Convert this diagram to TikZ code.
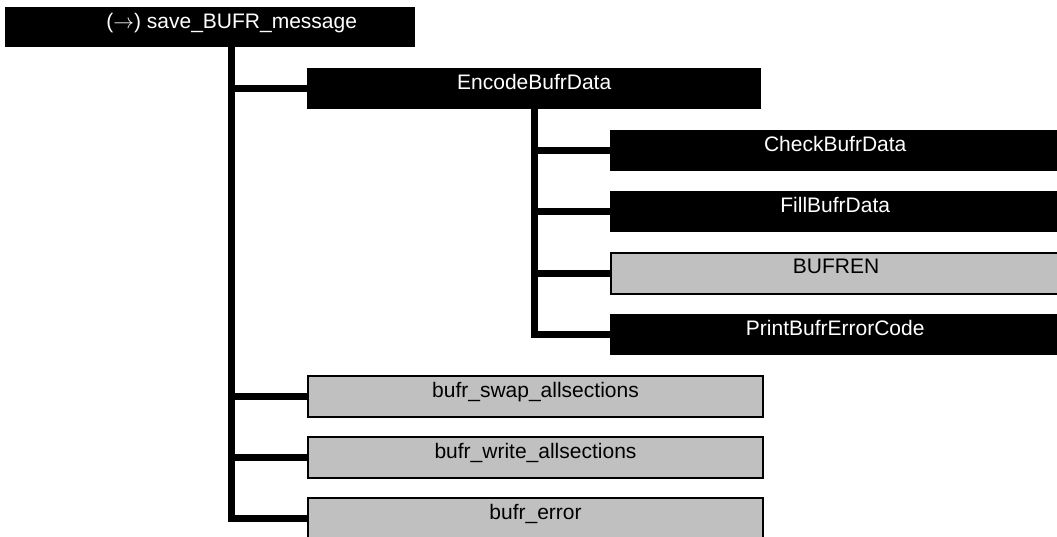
\documentclass[tikz,border=0pt]{standalone}
\usepackage{fontspec}
\setmainfont{Liberation Sans}
\usetikzlibrary{calc}
\definecolor{boxgray}{RGB}{192,192,192}
\begin{document}
\begin{tikzpicture}[x=1pt,y=-1pt,
  box/.style={anchor=north west,inner xsep=0pt,inner ysep=0pt,
    text height=21pt,text depth=20pt,font=\fontsize{21}{25}\selectfont},
  blackbox/.style={box,fill=black,text=white},
  graybox/.style={box,fill=boxgray,draw=black,line width=2pt,text=black},
  conn/.style={line width=6.5pt,draw=black,line join=miter}]
\useasboundingbox (0,0) rectangle (1057,537);
\clip (0,0) rectangle (1057,537);
% nodes
\node[blackbox,minimum width=410pt,text height=21pt,text depth=19pt] (top) at (5,7) {\hspace*{43pt}($\rightarrow$) save\_BUFR\_message};
\node[blackbox,minimum width=454pt] (enc) at (307,68) {EncodeBufrData};
\node[blackbox,minimum width=450pt] (check) at (610,130) {CheckBufrData};
\node[blackbox,minimum width=450pt] (fill) at (610,191) {FillBufrData};
\node[graybox,minimum width=450pt] (bufren) at (610,252) {BUFREN};
\node[blackbox,minimum width=450pt] (print) at (610,314) {PrintBufrErrorCode};
\node[graybox,minimum width=455pt] (swap) at (307,375) {bufr\_swap\_allsections};
\node[graybox,minimum width=455pt] (write) at (307,436) {bufr\_write\_allsections};
\node[graybox,minimum width=455pt] (error) at (307,497) {bufr\_error};
% trunk position
\coordinate (mainx) at (231.5,47);
\coordinate (encx) at (534.5,109);
% connectors from save_BUFR_message
\draw[conn] (mainx) |- (error.west);
\draw[conn] (mainx |- enc.west) -- (enc.west);
\draw[conn] (mainx |- swap.west) -- (swap.west);
\draw[conn] (mainx |- write.west) -- (write.west);
% connectors from EncodeBufrData
\draw[conn] (encx) |- (print.west);
\draw[conn] (encx |- check.west) -- (check.west);
\draw[conn] (encx |- fill.west) -- (fill.west);
\draw[conn] (encx |- bufren.west) -- (bufren.west);
\end{tikzpicture}
\end{document}
